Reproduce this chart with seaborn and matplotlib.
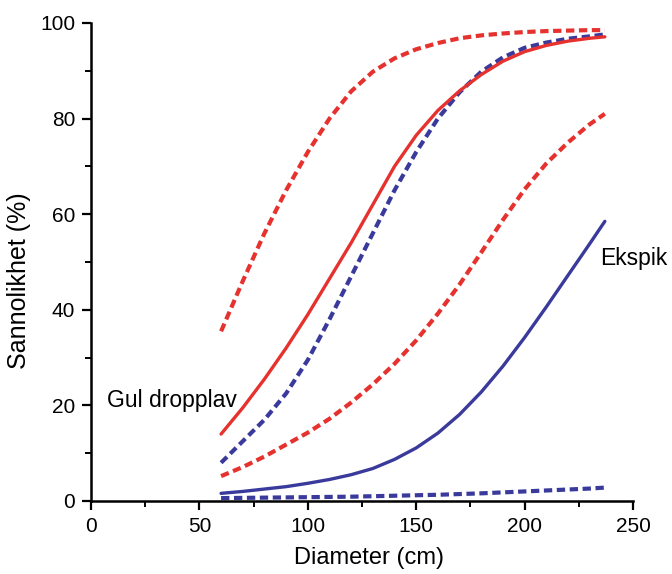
import matplotlib
matplotlib.use("Agg")
import matplotlib.pyplot as plt
import seaborn as sns
import pandas as pd
from matplotlib.ticker import MultipleLocator

diameter = [60, 70, 80, 90, 100, 110, 120, 130, 140, 150, 160, 170, 180, 190, 200, 210, 220, 230, 237]

gul_fit = [14.0, 19.5, 25.5, 32.0, 39.0, 46.5, 54.0, 62.0, 70.0, 76.5, 81.7, 85.8, 89.2, 92.0, 94.0, 95.3, 96.2, 96.8, 97.1]
gul_upper = [35.5, 46.0, 56.0, 65.0, 73.0, 80.0, 85.7, 89.8, 92.6, 94.5, 95.8, 96.8, 97.4, 97.8, 98.1, 98.3, 98.4, 98.5, 98.5]
gul_lower = [5.2, 7.1, 9.3, 11.8, 14.3, 17.2, 20.6, 24.4, 28.7, 33.6, 39.2, 45.3, 52.0, 58.8, 65.2, 70.6, 75.0, 78.8, 81.0]

eks_fit = [1.6, 2.0, 2.5, 3.0, 3.7, 4.5, 5.5, 6.8, 8.7, 11.1, 14.2, 18.1, 22.8, 28.2, 34.2, 40.6, 47.2, 53.8, 58.5]
eks_upper = [8.0, 12.5, 17.0, 22.5, 29.5, 38.0, 47.0, 56.0, 65.0, 73.0, 80.0, 85.5, 89.8, 92.8, 94.8, 95.9, 96.7, 97.2, 97.6]
eks_lower = [0.6, 0.65, 0.7, 0.75, 0.8, 0.85, 0.9, 1.0, 1.1, 1.2, 1.3, 1.45, 1.6, 1.8, 2.0, 2.2, 2.4, 2.6, 2.8]

x_ticks = [0, 50, 100, 150, 200, 250]
y_ticks = [0, 20, 40, 60, 80, 100]

RED = "#e6322e"
BLUE = "#3a3a9c"

sns.set_theme(style="ticks")
plt.rcParams['font.family'] = ['Liberation Sans', 'DejaVu Sans']
plt.rcParams['text.color'] = 'black'
plt.rcParams['axes.labelcolor'] = 'black'

fig = plt.figure(figsize=(6.72, 5.74), dpi=100)
ax = fig.add_axes([0.1354, 0.1272, 0.8066, 0.8328])

DASH = (0, (2.0, 1.1))
series = [
    (gul_upper, RED, DASH, 3.0),
    (gul_lower, RED, DASH, 3.0),
    (eks_upper, BLUE, DASH, 3.0),
    (eks_lower, BLUE, DASH, 3.0),
    (gul_fit, RED, '-', 2.4),
    (eks_fit, BLUE, '-', 2.4),
]
for vals, col, ls, lw in series:
    df = pd.DataFrame({"x": diameter, "y": vals})
    sns.lineplot(data=df, x="x", y="y", ax=ax, color=col, linestyle=ls, linewidth=lw)

ax.set_xlim(0, 250)
ax.set_ylim(0, 100)
ax.set_xticks(x_ticks)
ax.set_yticks(y_ticks)
ax.xaxis.set_minor_locator(MultipleLocator(25))
ax.yaxis.set_minor_locator(MultipleLocator(10))
ax.tick_params(which='major', direction='out', length=6.5, width=1.6, labelsize=15, colors='black', pad=5)
ax.tick_params(which='minor', direction='out', length=4, width=1.4, colors='black')
sns.despine(ax=ax)
for s in ['left', 'bottom']:
    ax.spines[s].set_linewidth(1.8)
    ax.spines[s].set_color('black')

ax.set_xlabel("Diameter (cm)", fontsize=17)
ax.set_ylabel("Sannolikhet (%)", fontsize=18)
ax.xaxis.set_label_coords(0.513, -0.096)
ax.yaxis.set_label_coords(-0.111, 0.46)

ax.text(37.4, 21.1, "Gul dropplav", fontsize=16.5, ha='center', va='center', color='black')
ax.text(235, 50.8, "Ekspik", fontsize=16.5, ha='left', va='center', color='black', clip_on=False)

fig.savefig("out.png", dpi=100, facecolor='white')
